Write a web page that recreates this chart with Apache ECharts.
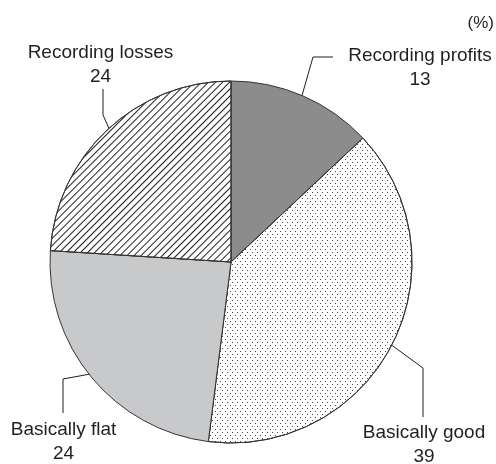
<!DOCTYPE html>
<html>
<head>
<meta charset="utf-8">
<script src="https://cdn.jsdelivr.net/npm/echarts@6/dist/echarts.min.js"></script>
<style>
  html, body { margin: 0; padding: 0; background: #fff; }
  #chart { width: 496px; height: 464px; }
</style>
</head>
<body>
<div id="chart"></div>
<script>
// Survey shares (%)
const categories = ['Recording profits', 'Basically good', 'Basically flat', 'Recording losses'];
const shares = [13, 39, 24, 24];
const unitLabel = '(%)';

// Layout
const CENTER = [231, 262];
const RADIUS = 181;
const INK = '#231f20';
const FONT = 'Liberation Sans, Arial, Helvetica, sans-serif';

// Label block centres and leader-line bends (screen px)
const labelSpots = [[420, 68], [424, 445], [63.5, 441.5], [100.5, 65]];
const leaderBends = [
  [[313, 57], [333, 57]],
  [[423, 368], [423, 417]],
  [[63, 379], [63, 413]],
  [[103, 115], [103, 89]]
];

const fills = ['#8c8c8c', '#ffffff', '#c8c9cb', '#ffffff'];
const decals = [
  null,
  { symbol: 'rect', symbolSize: 1, color: '#4a4a4a',
    dashArrayX: [[1, 4], [0, 2, 1, 2]], dashArrayY: [1, 2], rotation: 0 },
  null,
  { symbol: 'rect', symbolSize: 1, color: INK,
    dashArrayX: [1, 0], dashArrayY: [1, 4], rotation: -Math.PI / 4 }
];

// Mid-angle anchor on each slice, measured clockwise from 12 o'clock
const total = shares.reduce((a, b) => a + b, 0);
function anchorFor(idx) {
  let before = 0;
  for (let i = 0; i < idx; i++) before += shares[i];
  const mid = (before + shares[idx] / 2) / total * Math.PI * 2;
  const r = RADIUS * 0.96;
  return [CENTER[0] + r * Math.sin(mid), CENTER[1] - r * Math.cos(mid)];
}

const chart = echarts.init(document.getElementById('chart'), null, { renderer: 'canvas' });

chart.setOption({
  animation: false,
  backgroundColor: '#ffffff',
  graphic: [{
    type: 'text',
    right: 2,
    top: 15,
    style: { text: unitLabel, fill: INK, font: '17px ' + FONT }
  }],
  series: [{
    type: 'pie',
    center: CENTER,
    radius: RADIUS,
    startAngle: 90,
    clockwise: true,
    avoidLabelOverlap: false,
    itemStyle: { borderColor: '#3a3233', borderWidth: 1 },
    label: {
      show: true,
      position: 'outside',
      formatter: '{b}\n{c}',
      color: INK,
      fontFamily: FONT,
      fontSize: 19,
      lineHeight: 24,
      align: 'center'
    },
    labelLine: {
      show: true,
      length: 10,
      length2: 10,
      lineStyle: { color: INK, width: 1 }
    },
    labelLayout: function (params) {
      const i = params.dataIndex;
      return {
        x: labelSpots[i][0],
        y: labelSpots[i][1],
        align: 'center',
        verticalAlign: 'middle',
        labelLinePoints: [anchorFor(i), leaderBends[i][0], leaderBends[i][1]]
      };
    },
    emphasis: { disabled: true },
    data: categories.map((name, i) => ({
      name: name,
      value: shares[i],
      itemStyle: decals[i]
        ? { color: fills[i], decal: decals[i] }
        : { color: fills[i] }
    }))
  }]
});
</script>
</body>
</html>
